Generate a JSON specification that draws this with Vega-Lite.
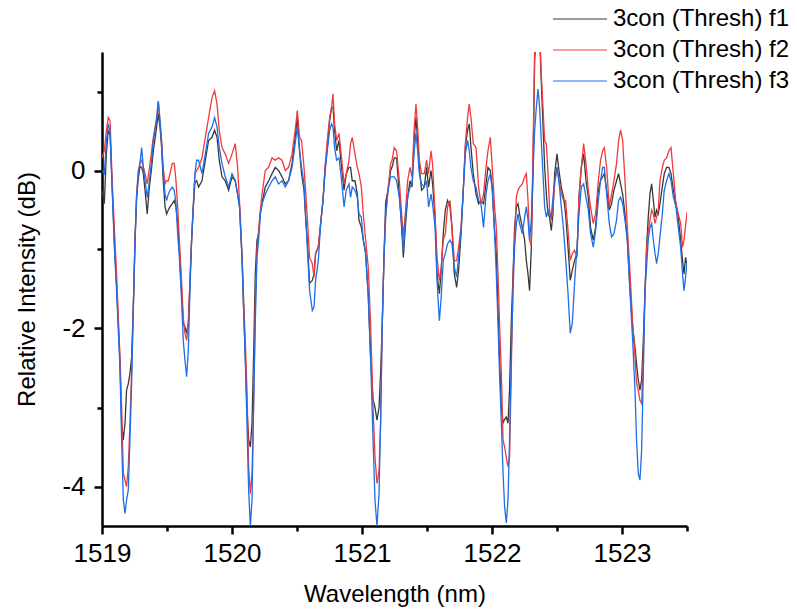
{
  "$schema": "https://vega.github.io/schema/vega-lite/v6.json",
  "autosize": {"type": "none"},
  "padding": {"left": 102, "top": 52, "right": 110, "bottom": 89},
  "width": 585,
  "height": 474,
  "background": "white",
  "config": {
    "font": "Liberation Sans",
    "view": {"stroke": null},
    "axis": {"labelColor": "black", "titleColor": "black", "titleFontWeight": "normal", "labelFontSize": 26, "titleFontSize": 24, "domainColor": "black", "tickColor": "black", "domainWidth": 2.5, "tickWidth": 2.5, "grid": false, "labelFont": "Liberation Sans", "titleFont": "Liberation Sans"},
    "legend": {"labelFont": "Liberation Sans", "labelColor": "black"}
  },
  "data": {"values": [
    {"w":1519.000,"f1":-0.25,"f2":0.16,"f3":0.0},
    {"w":1519.018,"f1":-0.42,"f2":0.25,"f3":-0.04},
    {"w":1519.033,"f1":0.2,"f2":0.5,"f3":0.35},
    {"w":1519.048,"f1":0.51,"f2":0.67,"f3":0.59},
    {"w":1519.062,"f1":0.45,"f2":0.63,"f3":0.5},
    {"w":1519.079,"f1":-0.25,"f2":-0.15,"f3":-0.25},
    {"w":1519.095,"f1":-0.9,"f2":-0.72,"f3":-0.97},
    {"w":1519.112,"f1":-1.45,"f2":-1.3,"f3":-1.52},
    {"w":1519.138,"f1":-2.4,"f2":-2.36,"f3":-2.49},
    {"w":1519.151,"f1":-3.2,"f2":-2.99,"f3":-3.41},
    {"w":1519.164,"f1":-3.41,"f2":-3.83,"f3":-4.17},
    {"w":1519.177,"f1":-3.2,"f2":-3.92,"f3":-4.34},
    {"w":1519.189,"f1":-2.78,"f2":-4.0,"f3":-4.17},
    {"w":1519.202,"f1":-2.7,"f2":-3.75,"f3":-4.05},
    {"w":1519.215,"f1":-2.57,"f2":-3.2,"f3":-3.41},
    {"w":1519.228,"f1":-2.36,"f2":-2.5,"f3":-2.7},
    {"w":1519.241,"f1":-1.73,"f2":-1.73,"f3":-1.73},
    {"w":1519.254,"f1":-0.9,"f2":-0.85,"f3":-0.88},
    {"w":1519.266,"f1":-0.36,"f2":-0.3,"f3":-0.34},
    {"w":1519.279,"f1":-0.1,"f2":0.0,"f3":-0.04},
    {"w":1519.292,"f1":0.05,"f2":0.09,"f3":0.09},
    {"w":1519.305,"f1":0.04,"f2":0.13,"f3":0.29},
    {"w":1519.318,"f1":-0.04,"f2":0.04,"f3":0.04},
    {"w":1519.331,"f1":-0.25,"f2":-0.04,"f3":-0.13},
    {"w":1519.348,"f1":-0.55,"f2":-0.17,"f3":-0.34},
    {"w":1519.362,"f1":-0.25,"f2":0.0,"f3":-0.17},
    {"w":1519.382,"f1":0.04,"f2":0.25,"f3":0.13},
    {"w":1519.395,"f1":0.25,"f2":0.42,"f3":0.38},
    {"w":1519.420,"f1":0.55,"f2":0.67,"f3":0.63},
    {"w":1519.433,"f1":0.72,"f2":0.88,"f3":0.88},
    {"w":1519.446,"f1":0.55,"f2":0.63,"f3":0.63},
    {"w":1519.458,"f1":0.3,"f2":0.38,"f3":0.38},
    {"w":1519.471,"f1":-0.13,"f2":0.04,"f3":-0.04},
    {"w":1519.485,"f1":-0.46,"f2":-0.17,"f3":-0.3},
    {"w":1519.497,"f1":-0.55,"f2":-0.13,"f3":-0.38},
    {"w":1519.510,"f1":-0.5,"f2":-0.13,"f3":-0.3},
    {"w":1519.523,"f1":-0.46,"f2":-0.04,"f3":-0.25},
    {"w":1519.541,"f1":-0.42,"f2":0.09,"f3":-0.21},
    {"w":1519.556,"f1":-0.38,"f2":0.09,"f3":-0.25},
    {"w":1519.569,"f1":-0.46,"f2":-0.13,"f3":-0.42},
    {"w":1519.582,"f1":-0.67,"f2":-0.46,"f3":-0.8},
    {"w":1519.595,"f1":-1.0,"f2":-0.88,"f3":-1.1},
    {"w":1519.612,"f1":-1.52,"f2":-1.39,"f3":-1.64},
    {"w":1519.625,"f1":-1.93,"f2":-1.86,"f3":-2.15},
    {"w":1519.638,"f1":-1.98,"f2":-2.06,"f3":-2.4},
    {"w":1519.651,"f1":-2.06,"f2":-2.15,"f3":-2.61},
    {"w":1519.664,"f1":-1.93,"f2":-1.93,"f3":-2.28},
    {"w":1519.677,"f1":-1.39,"f2":-1.39,"f3":-1.5},
    {"w":1519.689,"f1":-0.9,"f2":-0.88,"f3":-0.88},
    {"w":1519.702,"f1":-0.48,"f2":-0.46,"f3":-0.46},
    {"w":1519.715,"f1":-0.15,"f2":-0.04,"f3":-0.04},
    {"w":1519.728,"f1":-0.13,"f2":0.0,"f3":0.13},
    {"w":1519.743,"f1":-0.21,"f2":0.04,"f3":0.13},
    {"w":1519.769,"f1":-0.13,"f2":0.16,"f3":-0.04},
    {"w":1519.795,"f1":0.13,"f2":0.42,"f3":0.21},
    {"w":1519.820,"f1":0.38,"f2":0.67,"f3":0.47},
    {"w":1519.846,"f1":0.42,"f2":0.92,"f3":0.55},
    {"w":1519.866,"f1":0.51,"f2":1.01,"f3":0.67},
    {"w":1519.885,"f1":0.42,"f2":0.84,"f3":0.55},
    {"w":1519.902,"f1":0.13,"f2":0.51,"f3":0.29},
    {"w":1519.923,"f1":-0.08,"f2":0.29,"f3":0.09},
    {"w":1519.948,"f1":-0.13,"f2":0.21,"f3":-0.08},
    {"w":1519.974,"f1":-0.25,"f2":0.09,"f3":-0.21},
    {"w":1520.000,"f1":-0.08,"f2":0.21,"f3":-0.04},
    {"w":1520.025,"f1":-0.13,"f2":0.34,"f3":-0.13},
    {"w":1520.043,"f1":-0.3,"f2":0.04,"f3":-0.3},
    {"w":1520.058,"f1":-0.46,"f2":-0.4,"f3":-0.46},
    {"w":1520.077,"f1":-1.1,"f2":-1.05,"f3":-1.1},
    {"w":1520.089,"f1":-1.73,"f2":-1.6,"f3":-1.73},
    {"w":1520.102,"f1":-2.36,"f2":-2.15,"f3":-2.36},
    {"w":1520.115,"f1":-3.0,"f2":-2.78,"f3":-3.2},
    {"w":1520.128,"f1":-3.41,"f2":-3.75,"f3":-4.05},
    {"w":1520.141,"f1":-3.5,"f2":-4.09,"f3":-4.5},
    {"w":1520.154,"f1":-3.2,"f2":-3.83,"f3":-4.17},
    {"w":1520.166,"f1":-2.36,"f2":-2.99,"f3":-2.99},
    {"w":1520.179,"f1":-1.31,"f2":-1.73,"f3":-1.94},
    {"w":1520.192,"f1":-0.88,"f2":-1.0,"f3":-1.1},
    {"w":1520.205,"f1":-0.8,"f2":-0.75,"f3":-0.88},
    {"w":1520.218,"f1":-0.55,"f2":-0.5,"f3":-0.55},
    {"w":1520.231,"f1":-0.42,"f2":-0.3,"f3":-0.42},
    {"w":1520.256,"f1":-0.21,"f2":0.0,"f3":-0.3},
    {"w":1520.282,"f1":-0.13,"f2":0.04,"f3":-0.21},
    {"w":1520.308,"f1":-0.04,"f2":0.16,"f3":-0.13},
    {"w":1520.333,"f1":0.04,"f2":0.13,"f3":-0.08},
    {"w":1520.358,"f1":0.0,"f2":0.16,"f3":-0.17},
    {"w":1520.385,"f1":-0.08,"f2":0.13,"f3":-0.13},
    {"w":1520.410,"f1":-0.17,"f2":0.0,"f3":-0.21},
    {"w":1520.435,"f1":-0.13,"f2":0.04,"f3":-0.13},
    {"w":1520.462,"f1":0.09,"f2":0.21,"f3":0.04},
    {"w":1520.489,"f1":0.47,"f2":0.55,"f3":0.38},
    {"w":1520.502,"f1":0.67,"f2":0.76,"f3":0.55},
    {"w":1520.520,"f1":0.25,"f2":0.42,"f3":0.25},
    {"w":1520.535,"f1":-0.04,"f2":0.38,"f3":0.04},
    {"w":1520.554,"f1":-0.25,"f2":0.04,"f3":-0.17},
    {"w":1520.566,"f1":-0.59,"f2":-0.25,"f3":-0.55},
    {"w":1520.579,"f1":-0.88,"f2":-0.59,"f3":-0.97},
    {"w":1520.597,"f1":-1.43,"f2":-1.1,"f3":-1.52},
    {"w":1520.618,"f1":-1.39,"f2":-1.18,"f3":-1.77},
    {"w":1520.631,"f1":-1.31,"f2":-1.35,"f3":-1.73},
    {"w":1520.643,"f1":-1.05,"f2":-1.05,"f3":-1.39},
    {"w":1520.664,"f1":-0.97,"f2":-0.97,"f3":-1.14},
    {"w":1520.682,"f1":-0.67,"f2":-0.67,"f3":-0.67},
    {"w":1520.700,"f1":-0.38,"f2":-0.38,"f3":-0.38},
    {"w":1520.715,"f1":0.0,"f2":0.04,"f3":-0.04},
    {"w":1520.733,"f1":0.3,"f2":0.38,"f3":0.25},
    {"w":1520.751,"f1":0.63,"f2":0.67,"f3":0.51},
    {"w":1520.766,"f1":0.8,"f2":0.8,"f3":0.59},
    {"w":1520.777,"f1":0.8,"f2":0.97,"f3":0.55},
    {"w":1520.789,"f1":0.51,"f2":0.59,"f3":0.29},
    {"w":1520.805,"f1":0.25,"f2":0.38,"f3":0.13},
    {"w":1520.823,"f1":0.38,"f2":0.47,"f3":0.16},
    {"w":1520.843,"f1":0.04,"f2":0.16,"f3":-0.13},
    {"w":1520.862,"f1":-0.25,"f2":-0.17,"f3":-0.46},
    {"w":1520.879,"f1":-0.04,"f2":-0.04,"f3":-0.25},
    {"w":1520.900,"f1":0.04,"f2":0.13,"f3":-0.17},
    {"w":1520.912,"f1":0.04,"f2":0.34,"f3":-0.34},
    {"w":1520.925,"f1":-0.13,"f2":0.42,"f3":-0.21},
    {"w":1520.946,"f1":-0.13,"f2":0.21,"f3":-0.25},
    {"w":1520.964,"f1":-0.3,"f2":0.04,"f3":-0.34},
    {"w":1520.977,"f1":-0.63,"f2":-0.04,"f3":-0.55},
    {"w":1520.995,"f1":-0.72,"f2":-0.21,"f3":-0.59},
    {"w":1521.010,"f1":-0.88,"f2":-0.55,"f3":-0.88},
    {"w":1521.028,"f1":-1.05,"f2":-0.88,"f3":-1.05},
    {"w":1521.048,"f1":-1.56,"f2":-1.22,"f3":-1.6},
    {"w":1521.066,"f1":-2.36,"f2":-1.93,"f3":-2.36},
    {"w":1521.085,"f1":-2.9,"f2":-3.0,"f3":-3.41},
    {"w":1521.100,"f1":-3.0,"f2":-3.63,"f3":-4.17},
    {"w":1521.115,"f1":-3.16,"f2":-3.96,"f3":-4.5},
    {"w":1521.131,"f1":-3.0,"f2":-3.8,"f3":-4.09},
    {"w":1521.143,"f1":-2.57,"f2":-3.2,"f3":-3.2},
    {"w":1521.156,"f1":-1.93,"f2":-1.93,"f3":-1.93},
    {"w":1521.169,"f1":-1.1,"f2":-1.1,"f3":-1.1},
    {"w":1521.182,"f1":-0.4,"f2":-0.55,"f3":-0.6},
    {"w":1521.200,"f1":-0.25,"f2":-0.25,"f3":-0.25},
    {"w":1521.220,"f1":0.0,"f2":0.09,"f3":-0.08},
    {"w":1521.231,"f1":0.04,"f2":0.13,"f3":-0.08},
    {"w":1521.248,"f1":0.16,"f2":0.29,"f3":-0.08},
    {"w":1521.266,"f1":0.16,"f2":0.25,"f3":-0.13},
    {"w":1521.287,"f1":-0.3,"f2":-0.13,"f3":-0.34},
    {"w":1521.305,"f1":-0.72,"f2":-0.55,"f3":-0.67},
    {"w":1521.318,"f1":-1.1,"f2":-0.84,"f3":-1.01},
    {"w":1521.333,"f1":-0.72,"f2":-0.55,"f3":-0.63},
    {"w":1521.351,"f1":-0.34,"f2":-0.13,"f3":-0.34},
    {"w":1521.369,"f1":-0.13,"f2":0.04,"f3":-0.21},
    {"w":1521.385,"f1":-0.21,"f2":-0.08,"f3":-0.17},
    {"w":1521.402,"f1":0.42,"f2":0.55,"f3":0.25},
    {"w":1521.415,"f1":0.67,"f2":0.84,"f3":0.47},
    {"w":1521.428,"f1":0.38,"f2":0.55,"f3":0.25},
    {"w":1521.441,"f1":0.04,"f2":0.13,"f3":-0.04},
    {"w":1521.458,"f1":-0.25,"f2":-0.04,"f3":-0.17},
    {"w":1521.479,"f1":-0.21,"f2":-0.04,"f3":-0.21},
    {"w":1521.497,"f1":0.04,"f2":0.13,"f3":-0.13},
    {"w":1521.512,"f1":-0.21,"f2":-0.04,"f3":-0.46},
    {"w":1521.531,"f1":0.0,"f2":0.25,"f3":-0.3},
    {"w":1521.543,"f1":-0.17,"f2":0.08,"f3":-0.42},
    {"w":1521.562,"f1":-0.59,"f2":-0.55,"f3":-0.72},
    {"w":1521.577,"f1":-1.3,"f2":-1.1,"f3":-1.39},
    {"w":1521.595,"f1":-1.56,"f2":-1.39,"f3":-1.9},
    {"w":1521.608,"f1":-1.3,"f2":-1.26,"f3":-1.64},
    {"w":1521.625,"f1":-0.8,"f2":-0.88,"f3":-1.14},
    {"w":1521.641,"f1":-0.5,"f2":-0.8,"f3":-1.05},
    {"w":1521.658,"f1":-0.38,"f2":-0.46,"f3":-0.93},
    {"w":1521.677,"f1":-0.46,"f2":-0.38,"f3":-0.88},
    {"w":1521.692,"f1":-0.72,"f2":-0.72,"f3":-0.93},
    {"w":1521.710,"f1":-1.31,"f2":-1.14,"f3":-1.22},
    {"w":1521.728,"f1":-1.48,"f2":-1.14,"f3":-1.35},
    {"w":1521.743,"f1":-1.26,"f2":-0.97,"f3":-1.1},
    {"w":1521.762,"f1":-0.8,"f2":-0.72,"f3":-0.76},
    {"w":1521.779,"f1":-0.25,"f2":-0.25,"f3":-0.25},
    {"w":1521.795,"f1":0.3,"f2":0.34,"f3":0.21},
    {"w":1521.812,"f1":0.51,"f2":0.67,"f3":0.38},
    {"w":1521.825,"f1":0.59,"f2":0.84,"f3":0.25},
    {"w":1521.838,"f1":0.3,"f2":0.67,"f3":0.04},
    {"w":1521.856,"f1":-0.04,"f2":0.34,"f3":-0.13},
    {"w":1521.877,"f1":-0.3,"f2":0.29,"f3":-0.21},
    {"w":1521.897,"f1":-0.42,"f2":-0.21,"f3":-0.38},
    {"w":1521.915,"f1":-0.38,"f2":-0.42,"f3":-0.42},
    {"w":1521.935,"f1":-0.42,"f2":-0.3,"f3":-0.72},
    {"w":1521.954,"f1":-0.17,"f2":0.04,"f3":-0.3},
    {"w":1521.969,"f1":0.04,"f2":0.25,"f3":-0.13},
    {"w":1521.987,"f1":0.0,"f2":0.42,"f3":-0.04},
    {"w":1522.002,"f1":-0.21,"f2":0.04,"f3":-0.25},
    {"w":1522.020,"f1":-0.76,"f2":-0.46,"f3":-0.8},
    {"w":1522.033,"f1":-1.05,"f2":-0.72,"f3":-1.3},
    {"w":1522.046,"f1":-1.73,"f2":-1.3,"f3":-1.93},
    {"w":1522.058,"f1":-2.36,"f2":-1.93,"f3":-2.57},
    {"w":1522.072,"f1":-3.0,"f2":-2.57,"f3":-3.2},
    {"w":1522.085,"f1":-3.2,"f2":-3.41,"f3":-3.83},
    {"w":1522.097,"f1":-3.15,"f2":-3.5,"f3":-4.26},
    {"w":1522.110,"f1":-3.12,"f2":-3.63,"f3":-4.46},
    {"w":1522.123,"f1":-3.2,"f2":-3.75,"f3":-4.17},
    {"w":1522.135,"f1":-2.78,"f2":-3.63,"f3":-3.41},
    {"w":1522.148,"f1":-1.93,"f2":-2.57,"f3":-2.36},
    {"w":1522.162,"f1":-1.31,"f2":-1.31,"f3":-1.52},
    {"w":1522.174,"f1":-0.72,"f2":-0.88,"f3":-0.97},
    {"w":1522.187,"f1":-0.46,"f2":-0.34,"f3":-0.67},
    {"w":1522.200,"f1":-0.42,"f2":-0.25,"f3":-0.55},
    {"w":1522.212,"f1":-0.55,"f2":-0.21,"f3":-0.67},
    {"w":1522.233,"f1":-0.72,"f2":-0.17,"f3":-0.8},
    {"w":1522.251,"f1":-0.88,"f2":-0.08,"f3":-0.59},
    {"w":1522.264,"f1":-1.14,"f2":-0.04,"f3":-0.46},
    {"w":1522.277,"f1":-1.31,"f2":-0.38,"f3":-0.63},
    {"w":1522.289,"f1":-1.52,"f2":-0.88,"f3":-0.88},
    {"w":1522.302,"f1":-1.0,"f2":-0.95,"f3":-0.63},
    {"w":1522.315,"f1":-0.04,"f2":0.2,"f3":-0.04},
    {"w":1522.328,"f1":1.4,"f2":1.5,"f3":0.5},
    {"w":1522.341,"f1":1.7,"f2":1.8,"f3":0.8},
    {"w":1522.354,"f1":1.8,"f2":1.9,"f3":1.03},
    {"w":1522.366,"f1":1.7,"f2":1.8,"f3":0.8},
    {"w":1522.379,"f1":1.13,"f2":1.22,"f3":0.38},
    {"w":1522.392,"f1":0.59,"f2":0.8,"f3":-0.04},
    {"w":1522.405,"f1":0.04,"f2":0.38,"f3":-0.46},
    {"w":1522.418,"f1":-0.3,"f2":0.34,"f3":-0.59},
    {"w":1522.431,"f1":-0.55,"f2":-0.04,"f3":-0.5},
    {"w":1522.443,"f1":-0.59,"f2":-0.5,"f3":-0.55},
    {"w":1522.456,"f1":-0.76,"f2":-0.63,"f3":-0.59},
    {"w":1522.469,"f1":-0.55,"f2":-0.46,"f3":-0.34},
    {"w":1522.482,"f1":-0.04,"f2":-0.17,"f3":-0.13},
    {"w":1522.500,"f1":0.21,"f2":0.04,"f3":0.04},
    {"w":1522.515,"f1":0.0,"f2":-0.13,"f3":-0.13},
    {"w":1522.533,"f1":-0.21,"f2":-0.3,"f3":-0.46},
    {"w":1522.551,"f1":-0.34,"f2":-0.38,"f3":-0.76},
    {"w":1522.566,"f1":-0.55,"f2":-0.38,"f3":-1.1},
    {"w":1522.585,"f1":-0.97,"f2":-0.76,"f3":-1.56},
    {"w":1522.602,"f1":-1.39,"f2":-1.14,"f3":-2.06},
    {"w":1522.618,"f1":-1.26,"f2":-1.05,"f3":-1.93},
    {"w":1522.635,"f1":-1.14,"f2":-1.01,"f3":-1.43},
    {"w":1522.654,"f1":-1.05,"f2":-1.1,"f3":-0.97},
    {"w":1522.669,"f1":-0.34,"f2":-0.34,"f3":-0.55},
    {"w":1522.687,"f1":0.04,"f2":0.04,"f3":-0.21},
    {"w":1522.705,"f1":0.21,"f2":0.34,"f3":-0.17},
    {"w":1522.723,"f1":-0.13,"f2":0.09,"f3":-0.34},
    {"w":1522.741,"f1":-0.34,"f2":-0.25,"f3":-0.5},
    {"w":1522.758,"f1":-0.72,"f2":-0.46,"f3":-0.8},
    {"w":1522.779,"f1":-0.88,"f2":-0.67,"f3":-0.97},
    {"w":1522.797,"f1":-0.72,"f2":-0.55,"f3":-0.76},
    {"w":1522.818,"f1":-0.25,"f2":-0.13,"f3":-0.38},
    {"w":1522.835,"f1":-0.13,"f2":0.13,"f3":-0.13},
    {"w":1522.851,"f1":-0.08,"f2":0.25,"f3":0.04},
    {"w":1522.864,"f1":-0.04,"f2":0.29,"f3":0.04},
    {"w":1522.882,"f1":-0.25,"f2":0.04,"f3":-0.3},
    {"w":1522.902,"f1":-0.5,"f2":-0.46,"f3":-0.67},
    {"w":1522.920,"f1":-0.42,"f2":-0.3,"f3":-0.84},
    {"w":1522.938,"f1":-0.25,"f2":-0.13,"f3":-0.8},
    {"w":1522.958,"f1":-0.13,"f2":0.09,"f3":-0.63},
    {"w":1522.974,"f1":-0.04,"f2":0.38,"f3":-0.38},
    {"w":1522.989,"f1":-0.17,"f2":0.51,"f3":-0.34},
    {"w":1523.005,"f1":-0.3,"f2":0.38,"f3":-0.42},
    {"w":1523.023,"f1":-0.55,"f2":-0.13,"f3":-0.63},
    {"w":1523.041,"f1":-0.88,"f2":-0.72,"f3":-0.88},
    {"w":1523.062,"f1":-1.52,"f2":-1.3,"f3":-1.56},
    {"w":1523.082,"f1":-1.98,"f2":-1.93,"f3":-2.15},
    {"w":1523.100,"f1":-2.24,"f2":-2.36,"f3":-2.78},
    {"w":1523.112,"f1":-2.45,"f2":-2.69,"f3":-3.41},
    {"w":1523.125,"f1":-2.65,"f2":-2.78,"f3":-3.83},
    {"w":1523.138,"f1":-2.78,"f2":-2.91,"f3":-3.92},
    {"w":1523.151,"f1":-2.65,"f2":-2.95,"f3":-3.54},
    {"w":1523.164,"f1":-2.15,"f2":-2.36,"f3":-2.57},
    {"w":1523.177,"f1":-1.52,"f2":-1.52,"f3":-1.52},
    {"w":1523.189,"f1":-0.97,"f2":-1.01,"f3":-1.22},
    {"w":1523.202,"f1":-0.59,"f2":-0.76,"f3":-0.88},
    {"w":1523.215,"f1":-0.3,"f2":-0.63,"f3":-0.72},
    {"w":1523.228,"f1":-0.17,"f2":-0.5,"f3":-0.67},
    {"w":1523.241,"f1":-0.38,"f2":-0.55,"f3":-0.88},
    {"w":1523.254,"f1":-0.59,"f2":-0.67,"f3":-1.05},
    {"w":1523.266,"f1":-0.5,"f2":-0.59,"f3":-1.18},
    {"w":1523.279,"f1":-0.55,"f2":-0.5,"f3":-1.05},
    {"w":1523.292,"f1":-0.42,"f2":-0.13,"f3":-0.84},
    {"w":1523.310,"f1":-0.21,"f2":0.04,"f3":-0.55},
    {"w":1523.325,"f1":-0.04,"f2":0.13,"f3":-0.25},
    {"w":1523.343,"f1":0.04,"f2":0.16,"f3":-0.13},
    {"w":1523.361,"f1":0.04,"f2":0.25,"f3":-0.04},
    {"w":1523.377,"f1":-0.04,"f2":0.29,"f3":-0.13},
    {"w":1523.395,"f1":-0.25,"f2":-0.04,"f3":-0.34},
    {"w":1523.415,"f1":-0.42,"f2":-0.42,"f3":-0.46},
    {"w":1523.433,"f1":-0.59,"f2":-0.55,"f3":-0.72},
    {"w":1523.451,"f1":-0.88,"f2":-0.67,"f3":-0.97},
    {"w":1523.466,"f1":-1.14,"f2":-0.97,"f3":-1.31},
    {"w":1523.477,"f1":-1.31,"f2":-0.88,"f3":-1.52},
    {"w":1523.489,"f1":-1.1,"f2":-0.7,"f3":-1.35},
    {"w":1523.500,"f1":-1.2,"f2":-0.53,"f3":-1.16}
  ]},
  "transform": [{"fold": ["f1", "f2", "f3"], "as": ["series", "value"]}],
  "layer": [
    {
      "mark": {"type": "line", "strokeWidth": 1.3, "clip": true},
      "encoding": {
        "x": {"field": "w", "type": "quantitative", "scale": {"domain": [1519, 1523.5], "nice": false, "zero": false},
          "axis": {"orient": "bottom", "values": [1519, 1520, 1521, 1522, 1523], "format": "d", "tickSize": 8, "labelPadding": 6, "title": "Wavelength (nm)", "titlePadding": 16, "labelFlush": false}},
        "y": {"field": "value", "type": "quantitative", "scale": {"domain": [-4.5, 1.5], "nice": false, "zero": false},
          "axis": {"orient": "left", "values": [-4, -2, 0], "labelExpr": "'' + datum.value", "tickSize": 8, "labelPadding": 9, "title": "Relative Intensity (dB)", "titlePadding": 22, "labelFlush": false}},
        "color": {"field": "series", "type": "nominal",
          "scale": {"domain": ["f1", "f2", "f3"], "range": ["#383838", "#f03a3c", "#1f6ee6"]},
          "legend": {"orient": "none", "legendX": 466, "legendY": -45, "title": null, "padding": 0,
            "symbolType": "M-2.7,0H2.7", "symbolSize": 400, "symbolStrokeWidth": 1,
            "labelFontSize": 24, "labelOffset": 21, "rowPadding": 7, "labelLimit": 0,
            "labelExpr": "'3con (Thresh) ' + datum.label"}}
      }
    },
    {
      "mark": {"type": "point", "opacity": 0},
      "encoding": {
        "x": {"field": "w", "type": "quantitative",
          "axis": {"orient": "bottom", "values": [1519.5, 1520.5, 1521.5, 1522.5, 1523.5], "labels": false, "domain": false, "tickSize": 5, "title": null}},
        "y": {"field": "value", "type": "quantitative",
          "axis": {"orient": "left", "values": [-3, -1, 1], "labels": false, "domain": false, "tickSize": 5, "title": null}}
      }
    }
  ],
  "resolve": {"axis": {"x": "independent", "y": "independent"}}
}
